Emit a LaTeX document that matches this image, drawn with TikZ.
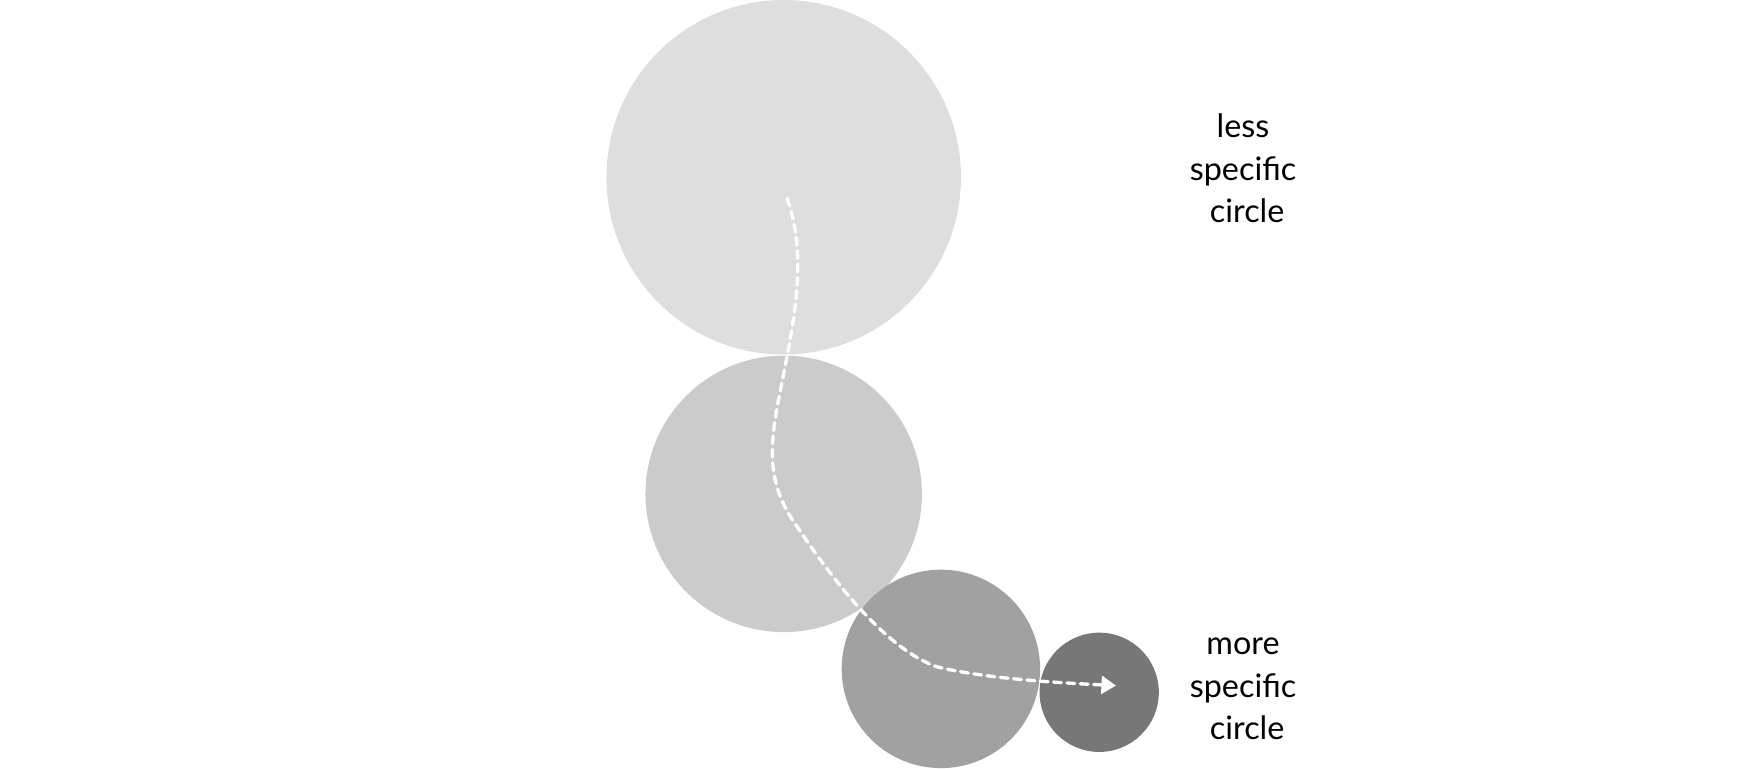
\documentclass[tikz,border=0pt]{standalone}
\usepackage{fontspec}
\setmainfont{Lato}
\usetikzlibrary{arrows.meta}
\begin{document}
\begin{tikzpicture}[x=1pt,y=-1pt,
  circ/.style={circle,inner sep=0pt,minimum size=#1},
  lbl/.style={align=center,font=\fontsize{29}{38}\selectfont,text=black},
  path/.style={white,line width=3pt,dash pattern=on 7pt off 5pt,line cap=round,-{Triangle[length=13pt,width=16pt]}}]
\useasboundingbox (0,0) rectangle (1568,689);
\node[circ=318pt,fill={rgb,255:red,222;green,222;blue,222}] (c1) at (703,159) {};
\node[circ=248pt,fill={rgb,255:red,203;green,203;blue,203}] (c2) at (703,443) {};
\node[circ=178pt,fill={rgb,255:red,161;green,161;blue,161}] (c3) at (844,600) {};
\node[circ=107pt,fill={rgb,255:red,119;green,119;blue,119}] (c4) at (986,621) {};
\coordinate (s) at (706,178);
\coordinate (e) at (1001,615);
\draw[path] (s) .. controls (725,230) and (712,290) .. (700,350)
  .. controls (690,400) and (688,430) .. (710,465)
  .. controls (740,510) and (790,580) .. (840,598)
  .. controls (880,608) and (940,612) .. (e);
\node[lbl] (t1) at (1115,151) {less\\specific\\\ circle};
\node[lbl] (t2) at (1115,618) {more\\specific\\\ circle};
\end{tikzpicture}
\end{document}
